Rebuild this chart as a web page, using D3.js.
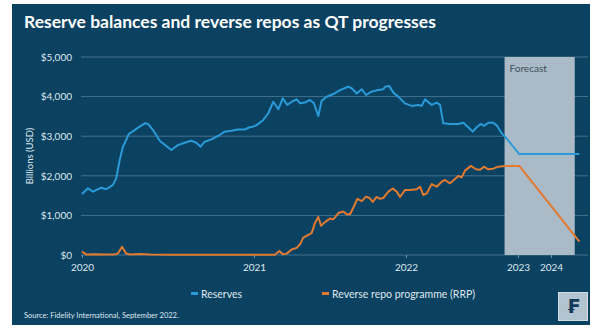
<!DOCTYPE html>
<html>
<head>
<meta charset="utf-8">
<script src="https://cdn.jsdelivr.net/npm/d3@7"></script>
<style>
  body { margin: 0; background: #ffffff; }
  svg { display: block; font-family: Lato, "Open Sans", sans-serif; }
</style>
</head>
<body>
<svg id="chart" width="604" height="334"></svg>
<script>
// Data (year as decimal, value in $bn)
const yearTicks = [2020, 2021, 2022, 2023, 2024];
const valueTicks = [0, 1000, 2000, 3000, 4000, 5000];
const forecastSpan = [2022.88, 2024.72];

const reserves = [
  [2020.00, 1540], [2020.035, 1685], [2020.064, 1600], [2020.112, 1700], [2020.141, 1660],
  [2020.180, 1770], [2020.199, 1935], [2020.219, 2400], [2020.238, 2735], [2020.248, 2820],
  [2020.272, 3055], [2020.306, 3155], [2020.335, 3240], [2020.365, 3325], [2020.384, 3310],
  [2020.413, 3155], [2020.452, 2885], [2020.490, 2750], [2020.519, 2650], [2020.558, 2775],
  [2020.597, 2835], [2020.635, 2885], [2020.665, 2835], [2020.690, 2735], [2020.713, 2860],
  [2020.752, 2920], [2020.791, 3005], [2020.830, 3115], [2020.868, 3140], [2020.907, 3170],
  [2020.946, 3170], [2020.975, 3225], [2020.994, 3240], [2021.017, 3280], [2021.061, 3410],
  [2021.094, 3580], [2021.127, 3870], [2021.160, 3680], [2021.189, 3955], [2021.219, 3790],
  [2021.248, 3870], [2021.281, 3930], [2021.303, 3830], [2021.336, 3850], [2021.368, 3915],
  [2021.395, 3830], [2021.423, 3510], [2021.445, 3895], [2021.478, 3995], [2021.522, 4065],
  [2021.566, 4165], [2021.620, 4250], [2021.643, 4210], [2021.676, 4080], [2021.709, 4185],
  [2021.737, 4040], [2021.774, 4125], [2021.818, 4165], [2021.851, 4185], [2021.862, 4250],
  [2021.890, 4265], [2021.917, 4100], [2021.949, 4000], [2021.993, 3830], [2022.051, 3765],
  [2022.110, 3790], [2022.140, 3765], [2022.170, 3930], [2022.229, 3790], [2022.274, 3850],
  [2022.304, 3790], [2022.333, 3325], [2022.393, 3310], [2022.467, 3310], [2022.512, 3340],
  [2022.556, 3225], [2022.596, 3115], [2022.631, 3225], [2022.667, 3310], [2022.696, 3260],
  [2022.735, 3340], [2022.779, 3340], [2022.815, 3260], [2022.854, 3075], [2022.884, 2990],
  [2023.04, 2550], [2024.86, 2550]
];

const rrp = [
  [2020.00, 90], [2020.023, 15], [2020.076, 20], [2020.134, 10], [2020.192, 15],
  [2020.209, 40], [2020.233, 210], [2020.256, 40], [2020.279, 15], [2020.34, 25],
  [2020.395, 10], [2020.50, 5], [2021.138, 5], [2021.167, 100], [2021.189, 20],
  [2021.215, 35], [2021.248, 140], [2021.281, 180], [2021.303, 270], [2021.324, 440],
  [2021.357, 505], [2021.380, 560], [2021.401, 810], [2021.423, 960], [2021.441, 740],
  [2021.467, 830], [2021.500, 920], [2021.522, 900], [2021.555, 1060], [2021.588, 1100],
  [2021.610, 1030], [2021.632, 1030], [2021.654, 1200], [2021.680, 1420], [2021.709, 1360],
  [2021.737, 1475], [2021.759, 1440], [2021.781, 1340], [2021.807, 1465], [2021.829, 1420],
  [2021.851, 1440], [2021.884, 1600], [2021.913, 1680], [2021.939, 1600], [2021.961, 1465],
  [2021.993, 1640], [2022.036, 1640], [2022.096, 1660], [2022.125, 1725], [2022.154, 1515],
  [2022.185, 1555], [2022.229, 1790], [2022.274, 1725], [2022.319, 1850], [2022.348, 1895],
  [2022.393, 1810], [2022.422, 1880], [2022.467, 1995], [2022.497, 1960], [2022.527, 2130],
  [2022.580, 2250], [2022.625, 2165], [2022.661, 2150], [2022.696, 2230], [2022.735, 2165],
  [2022.779, 2180], [2022.824, 2230], [2022.884, 2250], [2023.04, 2250], [2024.86, 335]
];

const svg = d3.select("#chart");

// colours
const navy = "#0b4161";
const blue = "#2a9bd8";
const orange = "#e27a30";
const textCol = "#dfe8ee";

// background panel
svg.append("rect")
  .attr("x", 12).attr("y", 4)
  .attr("width", 578).attr("height", 321)
  .attr("fill", navy);

// title
svg.append("text")
  .attr("x", 24).attr("y", 28)
  .attr("fill", "#ffffff")
  .attr("font-size", 17.5)
  .attr("font-weight", 700)
  .text("Reserve balances and reverse repos as QT progresses");

// scales - the x axis in the source is not evenly spaced per year
const xScale = d3.scaleLinear()
  .domain([2020, 2021, 2022, 2023, 2024, 2025])
  .range([82, 254, 406, 518, 551, 584]);

const yScale = d3.scaleLinear()
  .domain([0, 5000])
  .range([255, 57]);

// gridlines
svg.append("g")
  .selectAll("line")
  .data(valueTicks)
  .join("line")
  .attr("x1", 81).attr("x2", 588)
  .attr("y1", (d) => yScale(d)).attr("y2", (d) => yScale(d))
  .attr("stroke", "#44718f")
  .attr("stroke-width", 1);

// forecast shading
svg.append("rect")
  .attr("x", xScale(forecastSpan[0]))
  .attr("y", yScale(5000))
  .attr("width", xScale(forecastSpan[1]) - xScale(forecastSpan[0]))
  .attr("height", yScale(0) - yScale(5000))
  .attr("fill", "#aabac6");

svg.append("text")
  .attr("x", xScale(forecastSpan[0]) + 5)
  .attr("y", 72)
  .attr("fill", "#3e4f5c")
  .attr("font-size", 10)
  .text("Forecast");

// y axis labels
const yAxis = d3.axisLeft(yScale)
  .tickValues(valueTicks)
  .tickSize(0)
  .tickPadding(9)
  .tickFormat((d) => "$" + d3.format(",")(d));

svg.append("g")
  .attr("transform", "translate(81,0)")
  .call(yAxis)
  .call((g) => g.select(".domain").remove())
  .call((g) => g.selectAll("text")
    .attr("fill", textCol)
    .attr("font-size", 10)
    .attr("font-family", "Lato, sans-serif"));

// x axis
const xAxis = d3.axisBottom(xScale)
  .tickValues(yearTicks)
  .tickSize(3)
  .tickPadding(6)
  .tickFormat(d3.format("d"));

svg.append("g")
  .attr("transform", `translate(0,${yScale(0)})`)
  .call(xAxis)
  .call((g) => g.select(".domain").remove())
  .call((g) => g.selectAll("line").attr("stroke", "#6f93ab"))
  .call((g) => g.selectAll("text")
    .attr("fill", textCol)
    .attr("font-size", 10)
    .attr("font-family", "Lato, sans-serif"));

// y axis title
svg.append("text")
  .attr("transform", `translate(33,${yScale(2500)}) rotate(-90)`)
  .attr("text-anchor", "middle")
  .attr("fill", textCol)
  .attr("font-size", 9.5)
  .text("Billions (USD)");

// lines
const line = d3.line()
  .x((d) => xScale(d[0]))
  .y((d) => yScale(d[1]));

svg.append("path")
  .datum(rrp)
  .attr("d", line)
  .attr("fill", "none")
  .attr("stroke", orange)
  .attr("stroke-width", 2)
  .attr("stroke-linejoin", "round");

svg.append("path")
  .datum(reserves)
  .attr("d", line)
  .attr("fill", "none")
  .attr("stroke", blue)
  .attr("stroke-width", 2)
  .attr("stroke-linejoin", "round");

// legend
const legendItems = [
  { label: "Reserves", color: blue, x: 191 },
  { label: "Reverse repo programme (RRP)", color: orange, x: 322 }
];

const legend = svg.append("g").selectAll("g")
  .data(legendItems)
  .join("g")
  .attr("transform", (d) => `translate(${d.x},294)`);

legend.append("rect")
  .attr("x", 0).attr("y", -2)
  .attr("width", 7).attr("height", 3)
  .attr("fill", (d) => d.color);

legend.append("text")
  .attr("x", 10).attr("y", 3.5)
  .attr("fill", textCol)
  .attr("font-size", 10.5)
  .text((d) => d.label);

// source
svg.append("text")
  .attr("x", 24).attr("y", 318)
  .attr("fill", textCol)
  .attr("font-size", 7.5)
  .text("Source: Fidelity International, September 2022.");

// logo box
svg.append("rect")
  .attr("x", 558.5).attr("y", 292.5)
  .attr("width", 29).attr("height", 28)
  .attr("fill", "#b3c4d1")
  .attr("stroke", "#d3dde5");

svg.append("text")
  .attr("x", 573).attr("y", 313)
  .attr("text-anchor", "middle")
  .attr("fill", "#123b58")
  .attr("font-size", 19)
  .attr("font-weight", 700)
  .attr("font-family", "DejaVu Sans, sans-serif")
  .text("\u20A3");
</script>
</body>
</html>
